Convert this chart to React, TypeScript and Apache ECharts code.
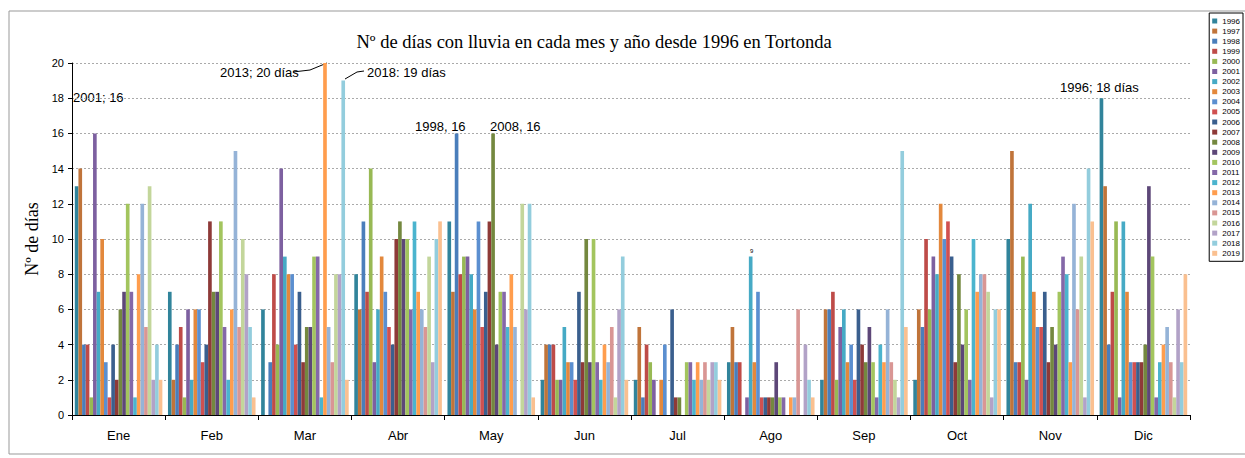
import React, { useEffect, useRef } from "react";
import * as echarts from "echarts";

const months = ["Ene", "Feb", "Mar", "Abr", "May", "Jun", "Jul", "Ago", "Sep", "Oct", "Nov", "Dic"];
const years = [
  "1996", "1997", "1998", "1999", "2000", "2001", "2002", "2003", "2004", "2005", "2006", "2007",
  "2008", "2009", "2010", "2011", "2012", "2013", "2014", "2015", "2016", "2017", "2018", "2019",
];
const yearColors = [
  "#31849B", "#C0743A", "#4A7EBB", "#BE4B48", "#98B954", "#7D60A0", "#46AAC5", "#E3883C",
  "#5B8FD0", "#D05050", "#3A5F8E", "#8E3A38", "#74883F", "#5D4778", "#A3C55E", "#8468A8",
  "#4BB4CE", "#FF9D4D", "#95B3D7", "#D99694", "#C3D69B", "#B2A2C7", "#93CDDD", "#FAC090",
];

// values per month, one entry per year 1996..2019
const ene = [13, 14, 4, 4, 1, 16, 7, 10, 3, 1, 4, 2, 6, 7, 12, 7, 1, 8, 12, 5, 13, 2, 4, 2];
const feb = [7, 2, 4, 5, 1, 6, 2, 6, 6, 3, 4, 11, 7, 7, 11, 5, 2, 6, 15, 5, 10, 8, 5, 1];
const mar = [6, 0, 3, 8, 4, 14, 9, 8, 8, 4, 7, 3, 5, 5, 9, 9, 1, 20, 5, 3, 8, 8, 19, 2];
const abr = [8, 6, 11, 7, 14, 3, 6, 9, 7, 5, 4, 10, 11, 10, 10, 6, 11, 7, 6, 5, 9, 3, 10, 11];
const may = [11, 7, 16, 8, 9, 9, 8, 6, 11, 5, 7, 11, 16, 4, 7, 7, 5, 8, 5, 0, 12, 6, 12, 1];
const jun = [2, 4, 4, 4, 2, 2, 5, 3, 3, 2, 7, 3, 10, 3, 10, 3, 2, 4, 3, 5, 1, 6, 9, 2];
const jul = [2, 5, 1, 4, 3, 2, 0, 2, 4, 0, 6, 1, 1, 0, 3, 3, 2, 3, 2, 3, 2, 3, 3, 2];
const ago = [3, 5, 3, 3, 0, 1, 9, 3, 7, 1, 1, 1, 1, 3, 1, 1, 0, 1, 1, 6, 0, 4, 2, 1];
const sep = [2, 6, 6, 7, 2, 5, 6, 3, 4, 2, 6, 4, 3, 5, 3, 1, 4, 3, 6, 3, 2, 1, 15, 5];
const oct = [2, 6, 5, 10, 6, 9, 8, 12, 10, 11, 9, 3, 8, 4, 6, 2, 10, 7, 8, 8, 7, 1, 6, 6];
const nov = [10, 15, 3, 3, 9, 2, 12, 7, 5, 5, 7, 3, 5, 4, 7, 9, 8, 3, 12, 6, 9, 1, 14, 11];
const dic = [18, 13, 4, 7, 11, 1, 11, 7, 3, 3, 3, 3, 4, 13, 9, 1, 3, 4, 5, 3, 1, 6, 3, 8];

const yTicks = [0, 2, 4, 6, 8, 10, 12, 14, 16, 18, 20];

const monthly = [ene, feb, mar, abr, may, jun, jul, ago, sep, oct, nov, dic];

const SANS = "Liberation Sans, Arial, sans-serif";
const SERIF = "Liberation Serif, Times New Roman, serif";

export default function App() {
  const ref = useRef<HTMLDivElement>(null);
  useEffect(() => {
    if (!ref.current) return;
    const chart = echarts.init(ref.current, undefined, { renderer: "svg" });
    const series = years.map((y, i) => ({
      name: y,
      type: "bar",
      data: monthly.map((m) => m[i]),
      itemStyle: { color: yearColors[i] },
      barGap: "0%",
      barCategoryGap: "6%",
    }));
    const annText = (text: string, x: number, y: number, size = 13) => ({
      type: "text",
      x,
      y,
      style: { text, fill: "#000", font: `${size}px ${SANS}`, textVerticalAlign: "middle" },
    });
    chart.setOption({
      animation: false,
      backgroundColor: "#fff",
      color: yearColors,
      title: {
        text: "Nº de días con lluvia en cada mes y año desde 1996 en Tortonda",
        left: 589,
        textAlign: "center",
        top: 27,
        textStyle: { fontFamily: SERIF, fontSize: 18.5, fontWeight: "normal", color: "#000" },
      },
      legend: {
        data: years,
        orient: "vertical",
        right: 2,
        top: 13,
        icon: "rect",
        itemWidth: 5,
        itemHeight: 5,
        itemGap: 2.1,
        itemTextGap: 3,
        padding: [4, 3, 4, 3],
        borderColor: "#000",
        borderWidth: 1,
        textStyle: { fontFamily: SANS, fontSize: 8, lineHeight: 8, color: "#000" },
      },
      grid: { left: 72, right: 55, top: 63, bottom: 43, containLabel: false },
      xAxis: {
        type: "category",
        data: months,
        axisLine: { lineStyle: { color: "#000", width: 1 } },
        axisTick: { show: true, length: 5, lineStyle: { color: "#000" } },
        axisLabel: { fontFamily: SANS, fontSize: 13, color: "#000", margin: 14 },
      },
      yAxis: {
        type: "value",
        min: yTicks[0],
        max: yTicks[yTicks.length - 1],
        interval: 2,
        name: "Nº de días",
        nameLocation: "middle",
        nameGap: 18,
        nameTextStyle: { fontFamily: SERIF, fontSize: 18, color: "#000" },
        axisLine: { show: true, lineStyle: { color: "#000" } },
        axisTick: { show: true, length: 4, lineStyle: { color: "#000" } },
        axisLabel: { fontFamily: SANS, fontSize: 11, color: "#000", margin: 8 },
        splitLine: { show: true, lineStyle: { color: "#aaa", type: [2, 2], width: 1 } },
      },
      series,
      graphic: [
        {
          type: "rect",
          shape: { x: 9, y: 11, width: 1240, height: 443 },
          style: { fill: "none", stroke: "#999", lineWidth: 1 },
          silent: true,
        },
        annText("2001; 16", 73, 97),
        annText("2013; 20 días", 220, 72),
        {
          type: "polyline",
          shape: { points: [[293, 72], [310, 70], [327, 63]] },
          style: { stroke: "#000", lineWidth: 1, fill: "none" },
        },
        annText("2018: 19 días", 367, 72),
        {
          type: "polyline",
          shape: { points: [[345, 79], [357, 72], [364, 71]] },
          style: { stroke: "#000", lineWidth: 1, fill: "none" },
        },
        annText("1998, 16", 415, 126),
        annText("2008, 16", 490, 126),
        annText("1996; 18 días", 1060, 87),
        annText("9", 750, 251, 6),
      ],
    });
    return () => chart.dispose();
  }, []);
  return (
    <div
      ref={ref}
      style={{ position: "fixed", left: 0, top: 0, width: 1245, height: 458, background: "#fff" }}
    />
  );
}
